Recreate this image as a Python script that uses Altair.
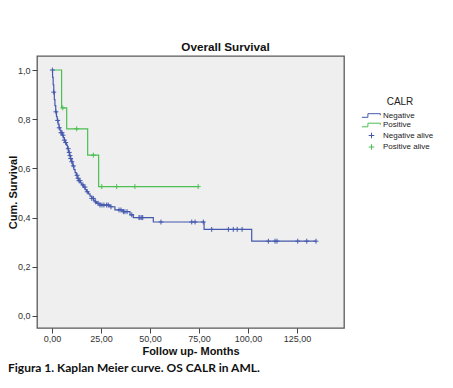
import altair as alt
import numpy as np
import pandas as pd

# ---- data ----
NEG_TIME = [0, 0.3, 0.6, 0.9, 1.2, 1.5, 1.9, 2.3, 2.7, 3.1, 3.6, 4.1, 4.6, 5.2, 5.8,
            6.3, 6.8, 7.4, 7.9, 8.4, 8.9, 9.5, 10.1, 10.6, 11.2, 11.8, 12.4, 12.9,
            13.6, 14.4, 15.2, 16.0, 16.9, 17.7, 18.6, 19.4, 20.3, 21.2, 22.0, 22.8,
            24.5, 29.6, 32.1, 36.4, 39.8, 41.5, 51.7, 77.6, 101.9, 134.7]
NEG_SURV = [1.0, 0.97, 0.94, 0.91, 0.88, 0.855, 0.83, 0.81, 0.795, 0.78, 0.765, 0.755,
            0.745, 0.735, 0.725, 0.715, 0.705, 0.695, 0.68, 0.665, 0.652, 0.64, 0.627,
            0.61, 0.595, 0.583, 0.572, 0.56, 0.55, 0.541, 0.533, 0.524, 0.514, 0.505,
            0.496, 0.487, 0.478, 0.471, 0.464, 0.458, 0.451, 0.444, 0.431, 0.424, 0.411,
            0.400, 0.382, 0.352, 0.304, 0.304]
NEG_CENS = [0.2, 0.9, 2.0, 2.9, 3.7, 4.6, 5.1, 5.6, 6.3, 7.0, 8.3, 8.8, 9.2, 9.5, 10.1,
            10.9, 12.8, 13.3, 13.8, 14.3, 15.8, 16.8, 18.0, 20.3, 21.1, 22.3, 23.5, 24.5,
            25.5, 26.5, 27.9, 28.7, 30.1, 34.2, 35.2, 36.4, 37.2, 38.3, 40.7, 44.4, 44.9,
            45.8, 46.3, 55.6, 71.3, 73.0, 77.2, 81.5, 90.0, 92.5, 94.5, 97.0, 110.4,
            113.8, 114.8, 125.4, 130.0, 134.7]

POS_TIME = [0, 4.9, 7.5, 18.2, 23.8, 74.6]
POS_SURV = [1.0, 0.846, 0.761, 0.654, 0.526, 0.526]
POS_CENS = [5.5, 12.6, 21.1, 25.4, 33.0, 42.3, 74.6]

SERIES = ["Negative", "Positive", "Negative alive", "Positive alive"]
COLORS = ["#4459ad", "#4cbf52", "#4459ad", "#4cbf52"]
X_TICKS = [0, 25, 50, 75, 100, 125]
Y_TICKS = [0.0, 0.2, 0.4, 0.6, 0.8, 1.0]
TITLE = "Overall Survival"
X_TITLE = "Follow up- Months"
Y_TITLE = "Cum. Survival"
LEGEND_TITLE = "CALR"
CAPTION = "Figura 1. Kaplan Meier curve. OS CALR in AML."

# ---- tables ----
def surv_at(times, survs, t):
    idx = np.searchsorted(np.array(times), np.array(t), side="right") - 1
    return [survs[i] for i in idx]

curves = pd.concat([
    pd.DataFrame({"time": NEG_TIME, "surv": NEG_SURV, "series": "Negative"}),
    pd.DataFrame({"time": POS_TIME, "surv": POS_SURV, "series": "Positive"}),
])
cens = pd.concat([
    pd.DataFrame({"time": NEG_CENS, "surv": surv_at(NEG_TIME, NEG_SURV, NEG_CENS),
                  "series": "Negative alive"}),
    pd.DataFrame({"time": POS_CENS, "surv": surv_at(POS_TIME, POS_SURV, POS_CENS),
                  "series": "Positive alive"}),
])

STEP_PATH = "M-2.4,0.45H-0.9V-0.45H2.2V-0.05"
CROSS_PATH = "M-0.7,0H0.7M0,-0.7V0.7"

x_scale = alt.Scale(domain=[-7.65, 149], nice=False, zero=False)
y_scale = alt.Scale(domain=[-0.049, 1.057], nice=False, zero=False)
color_scale = alt.Scale(domain=SERIES, range=COLORS)
shape_scale = alt.Scale(domain=SERIES, range=[STEP_PATH, STEP_PATH, CROSS_PATH, CROSS_PATH])

legend = alt.Legend(
    title=LEGEND_TITLE, orient="none", legendX=330, legendY=41,
    titleFont="Liberation Sans", titleFontSize=10, titleFontWeight="normal",
    titleColor="#222", titleAnchor="middle", titlePadding=4,
    labelFont="Liberation Sans", labelFontSize=8, labelColor="#222",
    labelOffset=7, symbolSize=64, symbolStrokeWidth=1, rowPadding=0.5,
    symbolFillColor="transparent",
)

x_enc = alt.X("time:Q", scale=x_scale,
              axis=alt.Axis(values=X_TICKS, title=X_TITLE, labelPadding=1,
                            labelExpr="replace(format(datum.value, '.2f'), '.', ',')",
                            titleY=23, titleBaseline="middle"))
y_enc = alt.Y("surv:Q", scale=y_scale,
              axis=alt.Axis(values=Y_TICKS, title=Y_TITLE,
                            labelExpr="replace(format(datum.value, '.1f'), '.', ',')",
                            titleX=-23.5, titleY=136, titleBaseline="middle", titleAngle=270))

lines = alt.Chart(curves).mark_line(interpolate="step-after", strokeWidth=1.2).encode(
    x=x_enc, y=y_enc,
    color=alt.Color("series:N", scale=color_scale, legend=legend),
    detail="series:N",
)

marks = alt.Chart(cens).mark_point(filled=False, size=50, strokeWidth=1, opacity=1).encode(
    x="time:Q", y="surv:Q",
    color=alt.Color("series:N", scale=color_scale, legend=legend),
    shape=alt.Shape("series:N", scale=shape_scale, legend=legend),
)

caption = alt.Chart(pd.DataFrame({"text": [CAPTION]})).mark_text(
    align="left", baseline="middle", font="Lato", fontSize=12, fontWeight="bold",
    color="#111",
).encode(x=alt.value(-29), y=alt.value(312), text="text:N")

chart = alt.layer(lines, marks, caption).properties(
    width=307, height=272,
    padding={"left": 29, "top": 48, "right": 101, "bottom": 52},
    autosize="none",
    title=alt.Title(TITLE, anchor="middle", dx=35, offset=2, font="Liberation Sans",
                    fontSize=11.7, fontWeight="bold", color="#111"),
).configure_view(
    fill="#efefef", stroke="#5a5a5a", strokeWidth=1.3,
).configure_axis(
    labelFont="Liberation Sans", labelFontSize=9, labelColor="#333",
    titleFont="Liberation Sans", titleFontSize=11, titleFontWeight="bold", titleColor="#111",
    domain=False, grid=False, tickColor="#444", tickSize=5, labelPadding=2,
)

chart.save("out.html", embed_options={"renderer": "svg", "actions": False})
